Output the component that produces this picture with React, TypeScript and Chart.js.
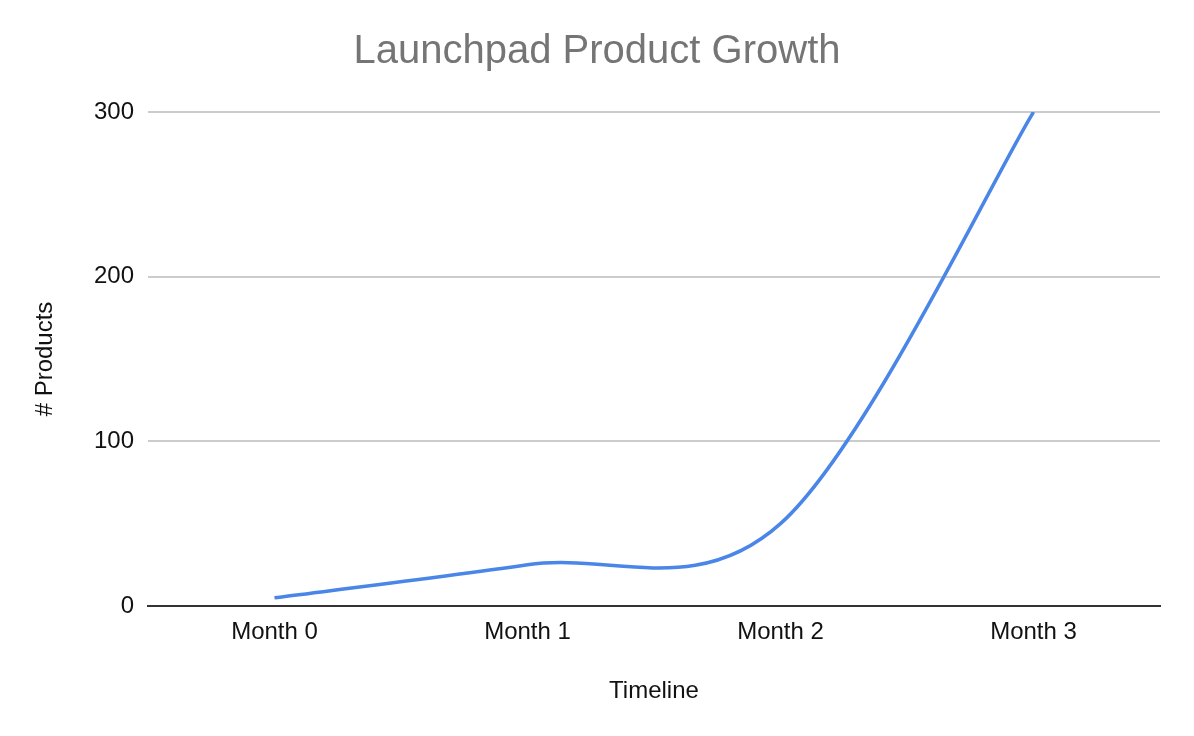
import React, { useEffect, useRef } from "react";
import { Chart, registerables } from "chart.js";

Chart.register(...registerables);

const categories = ["Month 0", "Month 1", "Month 2", "Month 3"];
const products = [5, 25, 50, 300];
const yTicks = [0, 100, 200, 300];

const FONT = 'Arial, "Liberation Sans", Helvetica, sans-serif';

// Uniform Catmull-Rom smoothing (like the spreadsheet's smooth line),
// computed from the points the library placed on its scales.
const catmullRom = {
  id: "catmullRom",
  beforeDatasetDraw(chart: any, args: any) {
    const meta = args.meta;
    const pts = meta.data as any[];
    for (let i = 0; i < pts.length; i++) {
      const p = pts[i];
      const prev = pts[i - 1] || p;
      const next = pts[i + 1] || p;
      const dx = (next.x - prev.x) / 6;
      const dy = (next.y - prev.y) / 6;
      p.cp1x = p.x - dx;
      p.cp1y = p.y - dy;
      p.cp2x = p.x + dx;
      p.cp2y = p.y + dy;
    }
    if (meta.dataset) meta.dataset._pointsUpdated = true;
  },
};

export default function App() {
  const ref = useRef<HTMLCanvasElement | null>(null);

  useEffect(() => {
    if (!ref.current) return;
    const chart = new Chart(ref.current, {
      type: "line",
      data: {
        labels: categories,
        datasets: [
          {
            label: "# Products",
            data: products,
            borderColor: "#4a86e8",
            backgroundColor: "#4a86e8",
            borderWidth: 3.5,
            pointRadius: 0,
            pointHoverRadius: 0,
            tension: 0.4,
            fill: false,
          },
        ],
      },
      options: {
        animation: false,
        responsive: true,
        maintainAspectRatio: false,
        layout: { padding: { top: 0, left: 34, right: 34, bottom: 0 } },
        plugins: {
          legend: { display: false },
          tooltip: { enabled: false },
          title: {
            display: true,
            text: "Launchpad Product Growth",
            color: "#757575",
            font: { family: FONT, size: 40, weight: "normal" },
            padding: { top: 28, bottom: 36 },
          },
        },
        scales: {
          x: {
            offset: true,
            grid: { display: false, drawTicks: false },
            border: { display: true, color: "#333333", width: 2 },
            ticks: {
              color: "#111111",
              font: { family: FONT, size: 24 },
              padding: 12,
              maxRotation: 0,
            },
            title: {
              display: true,
              text: "Timeline",
              color: "#111111",
              font: { family: FONT, size: 24 },
              padding: { top: 10, bottom: 30 },
            },
            afterFit: (s: any) => {
              s.height = 130;
            },
          },
          y: {
            min: 0,
            max: 300,
            afterBuildTicks: (s: any) => {
              s.ticks = yTicks.map((v) => ({ value: v }));
            },
            grid: {
              drawTicks: false,
              color: (c: any) => (c.tick && c.tick.value === 0 ? "rgba(0,0,0,0)" : "#cccccc"),
              lineWidth: 2,
            },
            border: { display: false },
            ticks: {
              color: "#111111",
              font: { family: FONT, size: 24 },
              padding: 14,
            },
            title: {
              display: true,
              text: "# Products",
              color: "#111111",
              font: { family: FONT, size: 24 },
              padding: { top: -3, bottom: 0 },
            },
            afterFit: (s: any) => {
              s.width = 114;
            },
          },
        },
      },
      plugins: [catmullRom],
    });
    return () => chart.destroy();
  }, []);

  return (
    <div style={{ position: "fixed", left: 0, top: 0, width: 1194, height: 736, background: "#ffffff" }}>
      <canvas ref={ref} />
    </div>
  );
}
